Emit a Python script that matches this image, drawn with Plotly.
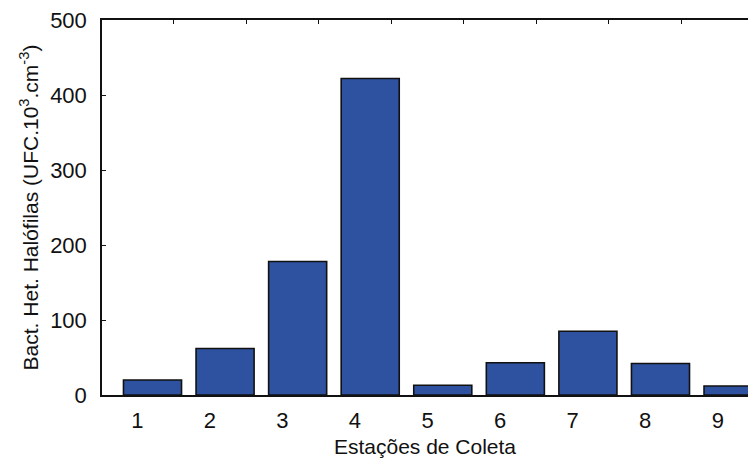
import plotly.graph_objects as go

# Colony counts of halophilic heterotrophic bacteria per sampling station
estacoes = [1, 2, 3, 4, 5, 6, 7, 8, 9]
contagens = [20, 62, 178, 422, 13, 43, 85, 42, 12]
rotulos_x = ["1", "2", "3", "4", "5", "6", "7", "8", "9"]
valores_y = [0, 100, 200, 300, 400, 500]

FONTE = "Liberation Sans, Arial, sans-serif"
faixa_x = [0.514, 9.416]

fig = go.Figure()
fig.add_trace(go.Bar(
    x=estacoes,
    y=contagens,
    width=0.8,
    offset=-0.19,
    marker=dict(color="#2f52a0", line=dict(color="#111111", width=1.6)),
    showlegend=False,
))

fig.update_layout(
    width=748,
    height=464,
    margin=dict(l=102, r=0, t=20, b=69),
    paper_bgcolor="white",
    plot_bgcolor="white",
    font=dict(family=FONTE, color="#111111"),
    xaxis=dict(
        range=faixa_x,
        tickvals=estacoes,
        ticktext=rotulos_x,
        ticks="",
        showline=True,
        linecolor="#111111",
        linewidth=1.5,
        showgrid=False,
        zeroline=False,
        tickfont=dict(size=22, family=FONTE),
        ticklabelstandoff=5,
        title=dict(text="Estações de Coleta", font=dict(size=21, family=FONTE), standoff=7),
    ),
    xaxis2=dict(
        overlaying="x",
        side="top",
        range=faixa_x,
        tickvals=[e + 0.5 for e in estacoes],
        ticks="inside",
        ticklen=4,
        tickcolor="#111111",
        showticklabels=False,
        showline=True,
        linecolor="#111111",
        linewidth=1.5,
        showgrid=False,
        zeroline=False,
    ),
    yaxis=dict(
        range=[0, 500],
        tickvals=valores_y,
        ticks="inside",
        ticklen=4,
        tickcolor="#111111",
        showline=True,
        linecolor="#111111",
        linewidth=1.5,
        showgrid=False,
        zeroline=False,
        tickfont=dict(size=22, family=FONTE),
        ticklabelstandoff=9,
        title=dict(
            text="Bact. Het. Halófilas (UFC.10<sup>3</sup>.cm<sup>-3</sup>)",
            font=dict(size=21, family=FONTE),
            standoff=6,
        ),
    ),
)

# An empty trace so the top axis is drawn
fig.add_trace(go.Scatter(x=[], y=[], xaxis="x2", showlegend=False))

fig.write_html("out.html")
